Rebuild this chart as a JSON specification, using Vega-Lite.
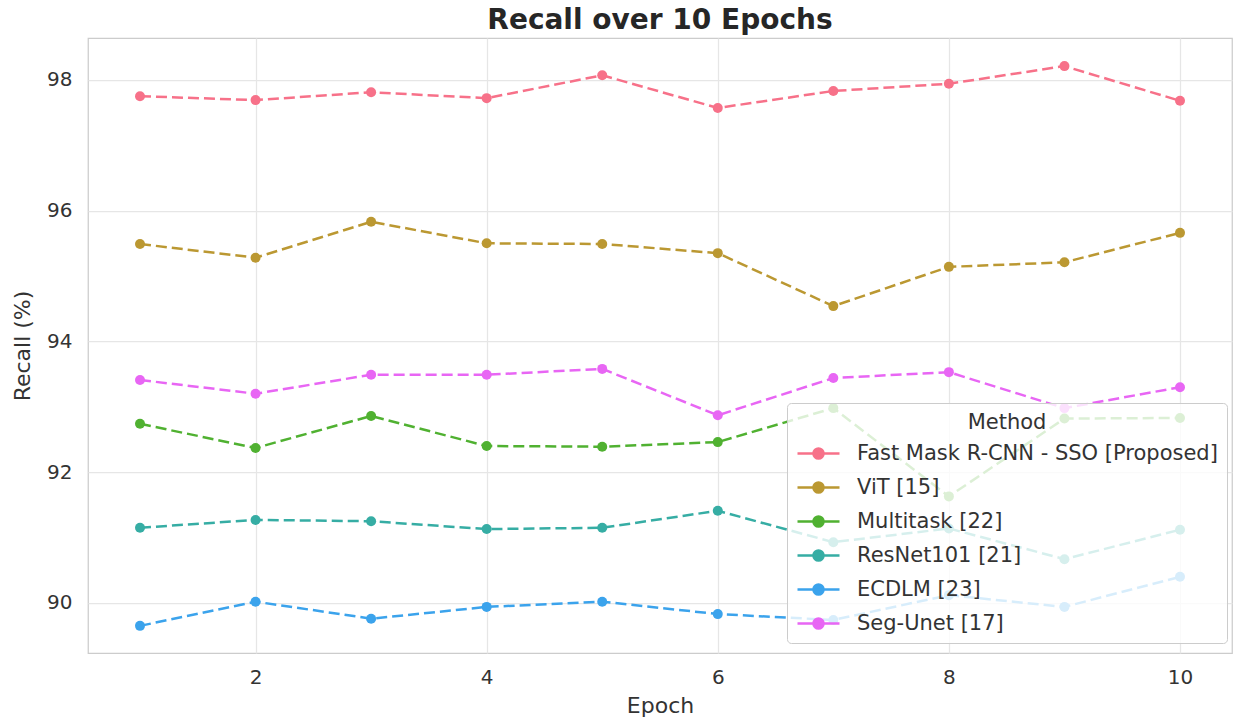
{
  "$schema": "https://vega.github.io/schema/vega-lite/v6.json",
  "autosize": {"type": "none"},
  "width": 1144,
  "height": 615,
  "padding": {"left": 88, "top": 38, "right": 6, "bottom": 74},
  "background": "white",
  "config": {
    "font": "DejaVu Sans",
    "view": {"stroke": "#cccccc", "strokeWidth": 1.25}
  },
  "title": {
    "text": "Recall over 10 Epochs",
    "fontSize": 28,
    "fontWeight": "bold",
    "color": "#262626",
    "anchor": "middle",
    "offset": 3,
    "font": "DejaVu Sans"
  },
  "data": {
    "values": [
      {"Epoch": 1, "Method": "Fast Mask R-CNN - SSO [Proposed]", "Recall": 97.75},
      {"Epoch": 2, "Method": "Fast Mask R-CNN - SSO [Proposed]", "Recall": 97.69},
      {"Epoch": 3, "Method": "Fast Mask R-CNN - SSO [Proposed]", "Recall": 97.81},
      {"Epoch": 4, "Method": "Fast Mask R-CNN - SSO [Proposed]", "Recall": 97.72},
      {"Epoch": 5, "Method": "Fast Mask R-CNN - SSO [Proposed]", "Recall": 98.07},
      {"Epoch": 6, "Method": "Fast Mask R-CNN - SSO [Proposed]", "Recall": 97.57},
      {"Epoch": 7, "Method": "Fast Mask R-CNN - SSO [Proposed]", "Recall": 97.83},
      {"Epoch": 8, "Method": "Fast Mask R-CNN - SSO [Proposed]", "Recall": 97.94},
      {"Epoch": 9, "Method": "Fast Mask R-CNN - SSO [Proposed]", "Recall": 98.21},
      {"Epoch": 10, "Method": "Fast Mask R-CNN - SSO [Proposed]", "Recall": 97.68},
      {"Epoch": 1, "Method": "ViT [15]", "Recall": 95.49},
      {"Epoch": 2, "Method": "ViT [15]", "Recall": 95.28},
      {"Epoch": 3, "Method": "ViT [15]", "Recall": 95.83},
      {"Epoch": 4, "Method": "ViT [15]", "Recall": 95.50},
      {"Epoch": 5, "Method": "ViT [15]", "Recall": 95.49},
      {"Epoch": 6, "Method": "ViT [15]", "Recall": 95.35},
      {"Epoch": 7, "Method": "ViT [15]", "Recall": 94.54},
      {"Epoch": 8, "Method": "ViT [15]", "Recall": 95.14},
      {"Epoch": 9, "Method": "ViT [15]", "Recall": 95.21},
      {"Epoch": 10, "Method": "ViT [15]", "Recall": 95.66},
      {"Epoch": 1, "Method": "Multitask [22]", "Recall": 92.74},
      {"Epoch": 2, "Method": "Multitask [22]", "Recall": 92.37},
      {"Epoch": 3, "Method": "Multitask [22]", "Recall": 92.86},
      {"Epoch": 4, "Method": "Multitask [22]", "Recall": 92.40},
      {"Epoch": 5, "Method": "Multitask [22]", "Recall": 92.39},
      {"Epoch": 6, "Method": "Multitask [22]", "Recall": 92.46},
      {"Epoch": 7, "Method": "Multitask [22]", "Recall": 92.98},
      {"Epoch": 8, "Method": "Multitask [22]", "Recall": 91.63},
      {"Epoch": 9, "Method": "Multitask [22]", "Recall": 92.82},
      {"Epoch": 10, "Method": "Multitask [22]", "Recall": 92.83},
      {"Epoch": 1, "Method": "ResNet101 [21]", "Recall": 91.15},
      {"Epoch": 2, "Method": "ResNet101 [21]", "Recall": 91.27},
      {"Epoch": 3, "Method": "ResNet101 [21]", "Recall": 91.25},
      {"Epoch": 4, "Method": "ResNet101 [21]", "Recall": 91.13},
      {"Epoch": 5, "Method": "ResNet101 [21]", "Recall": 91.15},
      {"Epoch": 6, "Method": "ResNet101 [21]", "Recall": 91.41},
      {"Epoch": 7, "Method": "ResNet101 [21]", "Recall": 90.93},
      {"Epoch": 8, "Method": "ResNet101 [21]", "Recall": 91.14},
      {"Epoch": 9, "Method": "ResNet101 [21]", "Recall": 90.67},
      {"Epoch": 10, "Method": "ResNet101 [21]", "Recall": 91.12},
      {"Epoch": 1, "Method": "ECDLM [23]", "Recall": 89.65},
      {"Epoch": 2, "Method": "ECDLM [23]", "Recall": 90.02},
      {"Epoch": 3, "Method": "ECDLM [23]", "Recall": 89.76},
      {"Epoch": 4, "Method": "ECDLM [23]", "Recall": 89.94},
      {"Epoch": 5, "Method": "ECDLM [23]", "Recall": 90.02},
      {"Epoch": 6, "Method": "ECDLM [23]", "Recall": 89.83},
      {"Epoch": 7, "Method": "ECDLM [23]", "Recall": 89.74},
      {"Epoch": 8, "Method": "ECDLM [23]", "Recall": 90.12},
      {"Epoch": 9, "Method": "ECDLM [23]", "Recall": 89.94},
      {"Epoch": 10, "Method": "ECDLM [23]", "Recall": 90.40},
      {"Epoch": 1, "Method": "Seg-Unet [17]", "Recall": 93.41},
      {"Epoch": 2, "Method": "Seg-Unet [17]", "Recall": 93.20},
      {"Epoch": 3, "Method": "Seg-Unet [17]", "Recall": 93.49},
      {"Epoch": 4, "Method": "Seg-Unet [17]", "Recall": 93.49},
      {"Epoch": 5, "Method": "Seg-Unet [17]", "Recall": 93.58},
      {"Epoch": 6, "Method": "Seg-Unet [17]", "Recall": 92.87},
      {"Epoch": 7, "Method": "Seg-Unet [17]", "Recall": 93.44},
      {"Epoch": 8, "Method": "Seg-Unet [17]", "Recall": 93.53},
      {"Epoch": 9, "Method": "Seg-Unet [17]", "Recall": 92.98},
      {"Epoch": 10, "Method": "Seg-Unet [17]", "Recall": 93.30}
    ]
  },
  "encoding": {
    "x": {
      "field": "Epoch",
      "type": "quantitative",
      "scale": {"domain": [0.55, 10.45], "nice": false, "zero": false},
      "axis": {
        "values": [2, 4, 6, 8, 10],
        "title": "Epoch",
        "domain": false,
        "ticks": false,
        "grid": true,
        "gridColor": "#e6e6e6",
        "gridWidth": 1.25,
        "labelFontSize": 20,
        "labelColor": "#333333",
        "labelPadding": 14,
        "titleFontSize": 22,
        "titleFontWeight": "normal",
        "titleColor": "#333333",
        "titlePadding": 8
      }
    },
    "y": {
      "field": "Recall",
      "type": "quantitative",
      "scale": {"domain": [89.235, 98.64], "nice": false, "zero": false},
      "axis": {
        "values": [90, 92, 94, 96, 98],
        "title": "Recall (%)",
        "domain": false,
        "ticks": false,
        "grid": true,
        "gridColor": "#e6e6e6",
        "gridWidth": 1.25,
        "labelFontSize": 20,
        "labelColor": "#333333",
        "labelPadding": 16,
        "titleFontSize": 22,
        "titleFontWeight": "normal",
        "titleColor": "#333333",
        "titlePadding": 12
      }
    },
    "color": {
      "field": "Method",
      "type": "nominal",
      "scale": {
        "domain": ["Fast Mask R-CNN - SSO [Proposed]", "ViT [15]", "Multitask [22]", "ResNet101 [21]", "ECDLM [23]", "Seg-Unet [17]"],
        "range": ["#f77189", "#bb9832", "#50b131", "#36ada4", "#3ba3ec", "#e866f4"]
      },
      "legend": {
        "title": "Method",
        "orient": "none",
        "legendX": 699,
        "legendY": 365,
        "direction": "vertical",
        "titleAnchor": "middle",
        "titleFontSize": 21,
        "titleFontWeight": "normal",
        "titleColor": "#333333",
        "titlePadding": -2,
        "labelFontSize": 21,
        "labelColor": "#333333",
        "labelLimit": 0,
        "labelOffset": 16,
        "rowPadding": 1,
        "padding": 9,
        "fillColor": "rgba(255,255,255,0.8)",
        "strokeColor": "#cccccc",
        "cornerRadius": 4,
        "symbolType": "M-1,0L1,0M-0.24,0A0.24,0.24 0 1,1 0.24,0A0.24,0.24 0 1,1 -0.24,0Z",
        "symbolSize": 1764,
        "symbolStrokeWidth": 2.5,
        "symbolDash": [],
        "symbolOpacity": 1,
        "encode": {
          "symbols": {
            "update": {
              "fill": {"scale": "color", "field": "value"},
              "stroke": {"scale": "color", "field": "value"},
              "fillOpacity": {"value": 1},
              "strokeDash": {"value": []}
            }
          }
        }
      }
    }
  },
  "layer": [
    {
      "mark": {"type": "line", "strokeWidth": 2.5, "strokeDash": [11, 5]}
    },
    {
      "mark": {"type": "point", "filled": true, "size": 100, "opacity": 1}
    }
  ]
}
